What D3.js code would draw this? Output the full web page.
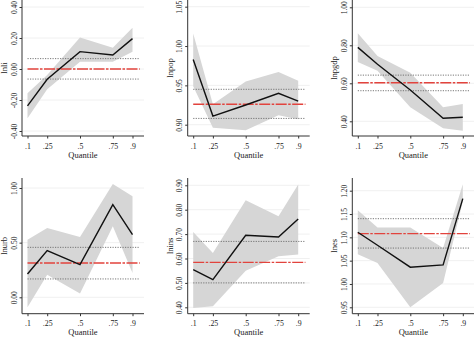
<!DOCTYPE html>
<html>
<head>
<meta charset="utf-8">
<script src="https://cdn.jsdelivr.net/npm/d3@7"></script>
<style>
  body { margin: 0; background: #fff; }
  svg { display: block; font-family: "Liberation Serif", "Times New Roman", serif; }
</style>
</head>
<body>
<svg id="chart" width="474" height="337"></svg>
<script>
// quantile regression estimates, one row per regressor
const quantiles = [0.1, 0.25, 0.5, 0.75, 0.9];
const quantileLabels = [".1", ".25", ".5", ".75", ".9"];
const variables = ["lnli", "lnpop", "lnpgdp", "lnurb", "lnins", "lnes"];

const qrCoef = [
    [-0.238, -0.066, 0.112, 0.090, 0.196],
    [0.983, 0.911, 0.925, 0.940, 0.930],
    [0.789, 0.700, 0.565, 0.416, 0.421],
    [0.213, 0.427, 0.299, 0.848, 0.573],
    [0.554, 0.513, 0.695, 0.688, 0.762],
    [1.111, 1.083, 1.036, 1.041, 1.183]
];
const qrLower = [
    [-0.318, -0.131, 0.047, 0.047, 0.112],
    [0.949, 0.896, 0.893, 0.912, 0.907],
    [0.712, 0.666, 0.474, 0.363, 0.350],
    [-0.091, 0.207, 0.034, 0.649, 0.223],
    [0.397, 0.404, 0.550, 0.609, 0.616],
    [1.064, 1.045, 0.950, 1.002, 1.177]
];
const qrUpper = [
    [-0.157, -0.039, 0.204, 0.137, 0.266],
    [1.016, 0.926, 0.955, 0.967, 0.956],
    [0.863, 0.744, 0.656, 0.474, 0.491],
    [0.527, 0.634, 0.552, 1.037, 0.924],
    [0.709, 0.623, 0.839, 0.773, 0.903],
    [1.158, 1.121, 1.121, 1.077, 1.214]
];

// OLS estimate and its confidence bounds
const olsCoef = [0.000, 0.926, 0.603, 0.314, 0.584, 1.108];
const olsLower = [-0.065, 0.908, 0.561, 0.168, 0.500, 1.077];
const olsUpper = [0.067, 0.945, 0.643, 0.457, 0.670, 1.140];

const yTicks = [
    [-0.4, -0.2, 0, 0.2, 0.4],
    [0.90, 0.95, 1.00, 1.05],
    [0.4, 0.6, 0.8, 1.0],
    [0, 0.5, 1.0],
    [0.4, 0.5, 0.6, 0.7, 0.8, 0.9],
    [0.95, 1.00, 1.05, 1.10, 1.15, 1.20]
];

// layout
const colX = [22, 187.7, 352.3];
const rowAxisY = [136, 313.7];
const rowTop = [0, 178];
const plotW = 122;
const tickPix = [[131, 7], [124.7, 6.7], [121.3, 7.3], [297.3, 188], [307.3, 185.3], [307.3, 190.7]];
const olsSpan = [0.1, 0.955];

const fmt = d3.formatLocale({decimal: ".", thousands: ",", grouping: [3], currency: ["", ""], minus: "-"}).format(".2f");
const svg = d3.select("#chart");

variables.forEach((name, i) => {
    const col = i % 3, row = Math.floor(i / 3);
    const x0 = colX[col], yAxis = rowAxisY[row], yTop = rowTop[row];
    const ticks = yTicks[i];

    const x = d3.scaleLinear().domain([0.1, 0.9]).range([x0 + 5.5, x0 + 110.5]);
    const y = d3.scaleLinear().domain([ticks[0], ticks[ticks.length - 1]]).range(tickPix[i]);

    const g = svg.append("g");

    // grid
    g.append("g").selectAll("line").data(ticks).join("line")
        .attr("x1", x0).attr("x2", x0 + plotW)
        .attr("y1", d => y(d)).attr("y2", d => y(d))
        .attr("stroke", "#ececec").attr("stroke-width", 0.8);

    const rows = quantiles.map((q, k) => ({q, c: qrCoef[i][k], lo: qrLower[i][k], hi: qrUpper[i][k]}));

    // confidence band
    g.append("path").datum(rows)
        .attr("d", d3.area().x(d => x(d.q)).y0(d => y(d.lo)).y1(d => y(d.hi)))
        .attr("fill", "#d6d6d6");

    // OLS bounds
    g.append("g").selectAll("line").data([olsLower[i], olsUpper[i]]).join("line")
        .attr("x1", x(olsSpan[0])).attr("x2", x(olsSpan[1]))
        .attr("y1", d => y(d)).attr("y2", d => y(d))
        .attr("stroke", "#6a6a6a").attr("stroke-width", 0.9)
        .attr("stroke-dasharray", "1.2,1.3");

    // OLS estimate
    g.append("line")
        .attr("x1", x(olsSpan[0])).attr("x2", x(olsSpan[1]))
        .attr("y1", y(olsCoef[i])).attr("y2", y(olsCoef[i]))
        .attr("stroke", "#e2433d").attr("stroke-width", 1.4)
        .attr("stroke-dasharray", "11,1.5,2.5,1.5");

    // quantile estimates
    g.append("path").datum(rows)
        .attr("d", d3.line().x(d => x(d.q)).y(d => y(d.c)))
        .attr("fill", "none").attr("stroke", "#111").attr("stroke-width", 1.4);

    // axes
    g.append("line").attr("x1", x0).attr("x2", x0).attr("y1", yTop).attr("y2", yAxis)
        .attr("stroke", "#333").attr("stroke-width", 1);
    g.append("line").attr("x1", x0).attr("x2", x0 + plotW).attr("y1", yAxis).attr("y2", yAxis)
        .attr("stroke", "#333").attr("stroke-width", 1);

    const ya = g.append("g").attr("transform", `translate(${x0},0)`)
        .call(d3.axisLeft(y).tickValues(ticks).tickFormat(fmt).tickSize(2.5).tickSizeOuter(0));
    ya.select(".domain").remove();
    ya.selectAll("line").attr("stroke", "#333");
    ya.selectAll("text")
        .attr("x", 0).attr("y", -5.5).attr("dy", 0)
        .attr("transform", "rotate(-90)")
        .attr("text-anchor", "middle")
        .attr("font-size", 7.5).attr("fill", "#222")
        .style("font-family", "Liberation Serif");

    const xa = g.append("g").attr("transform", `translate(0,${yAxis})`)
        .call(d3.axisBottom(x).tickValues(quantiles).tickFormat((d, k) => quantileLabels[k])
            .tickSize(2.5).tickSizeOuter(0).tickPadding(4.5));
    xa.select(".domain").remove();
    xa.selectAll("line").attr("stroke", "#333");
    xa.selectAll("text").attr("font-size", 7.8).attr("fill", "#222")
        .style("font-family", "Liberation Serif");

    // titles
    g.append("text")
        .attr("x", x0 + plotW / 2).attr("y", yAxis + 21.5)
        .attr("text-anchor", "middle").attr("font-size", 8.5).attr("fill", "#222")
        .style("font-family", "Liberation Serif")
        .text("Quantile");
    g.append("text")
        .attr("transform", `translate(${x0 - 15},${(yTop + yAxis) / 2}) rotate(-90)`)
        .attr("text-anchor", "middle").attr("font-size", 8.5).attr("fill", "#222")
        .style("font-family", "Liberation Serif")
        .text(name);
});
</script>
</body>
</html>
